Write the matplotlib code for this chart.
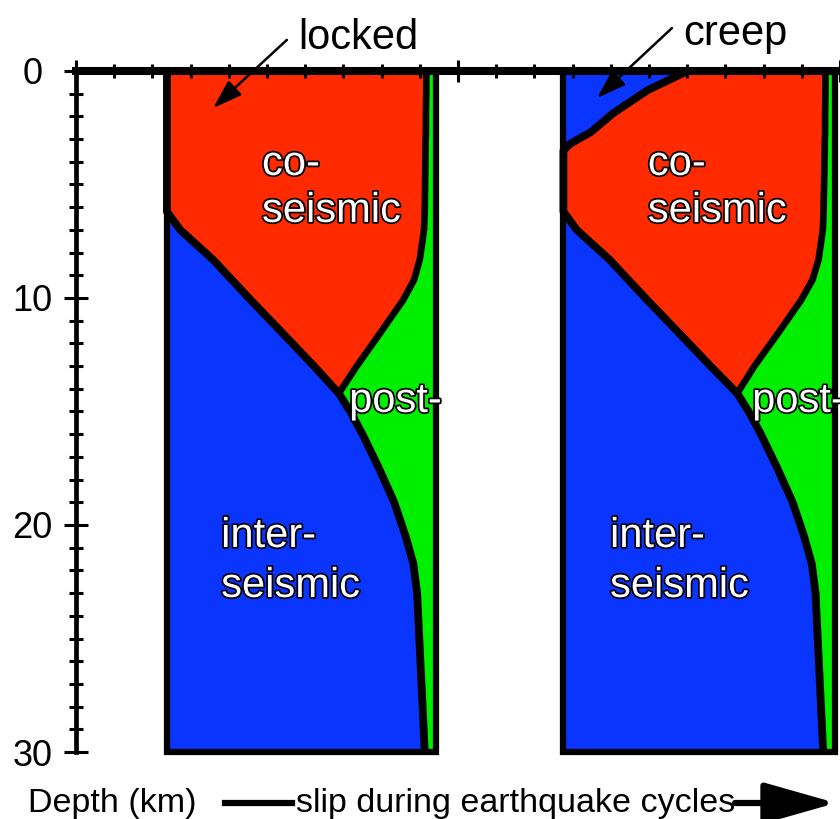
import matplotlib

matplotlib.use("Agg")
import matplotlib.pyplot as plt
import matplotlib.patheffects as pe
from matplotlib.lines import Line2D
import numpy as np

plt.rcParams["font.family"] = ["Liberation Sans", "DejaVu Sans"]

# depth grid (km) shared by every profile
depth_km = [0, 0.85, 1.85, 2.7, 3.2, 3.5, 6.2, 7.0, 8.3, 9.2, 10.1, 11.5, 13.0, 14.2,
            15.0, 16.0, 17.5, 19.0, 20.5, 21.7, 23.0, 26.5, 30.0]

# cumulative slip at the end of each phase, from the panel's left edge
# left panel: locked to 6 km
inter_locked = [0, 0, 0, 0, 0, 0, 0, 0.35, 1.2, 1.7, 2.2, 3.0, 3.85, 4.5,
                4.8, 5.12, 5.55, 5.95, 6.25, 6.45, 6.55, 6.65, 6.75]
co_locked_top = [6.79, 6.79, 6.78, 6.78, 6.77, 6.77, 6.75, 6.73, 6.62, 6.47, 6.18, 5.6, 4.97, 4.5]
total_locked = 7.05

# right panel: shallow creep
inter_creep = [3.25, 2.2, 1.31, 0.71, 0.18, 0, 0, 0.35, 1.2, 1.7, 2.2, 3.0, 3.85, 4.55,
               4.85, 5.17, 5.6, 6.0, 6.3, 6.5, 6.6, 6.7, 6.8]
co_creep_top = [6.86, 6.86, 6.85, 6.85, 6.84, 6.84, 6.81, 6.79, 6.68, 6.52, 6.22, 5.64, 5.0, 4.55]
total_creep = 7.1

panel_offsets = [2.38, 12.76]

RED = "#ff2a00"
BLUE = "#0a35ff"
GREEN = "#00ee00"

fig = plt.figure(figsize=(8.4, 8.19), dpi=100)
ax = fig.add_axes([76 / 840, 1 - 752 / 819, 1 - 76 / 840, (752 - 71) / 819])
ax.set_xlim(0, 20)
ax.set_ylim(30, 0)

depth = np.array(depth_km)
panels = [
    (panel_offsets[0], inter_locked, co_locked_top, total_locked),
    (panel_offsets[1], inter_creep, co_creep_top, total_creep),
]
for off, inter, co_top, total in panels:
    inter = np.array(inter)
    co = np.concatenate([co_top, inter[len(co_top):]])
    ax.fill_betweenx(depth, off, off + inter, color=BLUE, lw=0, zorder=1)
    ax.fill_betweenx(depth, off + inter, off + co, color=RED, lw=0, zorder=1)
    ax.fill_betweenx(depth, off + co, off + total, color=GREEN, lw=0, zorder=1)
    ax.plot(off + inter, depth, color="k", lw=5.6, solid_joinstyle="round",
            solid_capstyle="round", zorder=2)
    ax.plot(off + np.array(co_top), depth[:len(co_top)], color="k", lw=4.8,
            solid_joinstyle="round", solid_capstyle="round", zorder=2)
    ax.plot([off, off, off + total, off + total], [0, 30, 30, 0], color="k", lw=4.5,
            solid_joinstyle="miter", clip_on=False, zorder=2)

# axes: thick top line with ticks, depth axis on the left
for side in ("right", "bottom"):
    ax.spines[side].set_visible(False)
ax.spines["top"].set_linewidth(5.8)
ax.spines["left"].set_linewidth(3.4)
ax.spines["top"].set_zorder(3)
ax.xaxis.tick_top()
ax.set_xticks([0, 10, 20])
ax.set_xticks(np.arange(0, 21, 1), minor=True)
ax.tick_params(axis="x", which="major", direction="inout", length=16.5, width=2.2,
               labeltop=False, labelbottom=False)
ax.tick_params(axis="x", which="minor", direction="inout", length=10, width=2.2)

ax.set_yticks([0, 10, 20, 30])
ax.set_yticks(np.arange(0, 31, 1), minor=True)
ax.set_yticklabels(["0", "10", "20", "30"])
ax.tick_params(axis="y", which="major", direction="inout", length=17, width=2.2,
               pad=23, labelsize=26)
ax.tick_params(axis="y", which="minor", direction="inout", length=9.5, width=2.2)
for lab in ax.get_yticklabels():
    lab.set_ha("center")
ax.set_facecolor("none")

# white labels with a thin black outline
outline = [pe.withStroke(linewidth=2.5, foreground="k")]
labels = [
    ("co-", 4.87, 4.58), ("seismic", 4.87, 6.65),
    ("inter-", 3.80, 20.97), ("seismic", 3.80, 23.17),
    ("post-", 7.15, 15.02),
    ("co-", 14.97, 4.58), ("seismic", 14.97, 6.65),
    ("inter-", 13.98, 20.97), ("seismic", 13.98, 23.17),
    ("post-", 17.70, 15.02),
]
for txt, x, y in labels:
    ax.text(x, y, txt, color="white", fontsize=30, ha="left", va="baseline",
            path_effects=outline, zorder=4, clip_on=False)

# callouts above the panels
ax.text(5.81, -0.97, "locked", fontsize=30, ha="left", va="baseline", clip_on=False)
ax.text(15.89, -1.15, "creep", fontsize=30, ha="left", va="baseline", clip_on=False)
arrow = dict(arrowstyle="-|>,head_length=0.9,head_width=0.3", color="k", lw=1.8,
             mutation_scale=20, shrinkA=0, shrinkB=0)
ax.annotate("", xy=(3.59, 1.63), xytext=(5.52, -1.37), arrowprops=arrow,
            annotation_clip=False, zorder=5)
ax.annotate("", xy=(13.64, 1.19), xytext=(15.6, -1.89), arrowprops=arrow,
            annotation_clip=False, zorder=5)

# bottom caption
fig.text(28 / 840, 1 - 812 / 819, "Depth (km)", fontsize=24.5, ha="left", va="baseline")
fig.text(296 / 840, 1 - 812 / 819, "slip during earthquake cycles", fontsize=24.5,
         ha="left", va="baseline")
fig.add_artist(Line2D([225 / 840, 292 / 840], [1 - 803 / 819] * 2, lw=4.5, color="k"))
ax.annotate("", xy=(836, 16), xytext=(735, 16), xycoords="figure pixels",
            arrowprops=dict(arrowstyle="-|>,head_length=4.4,head_width=1.25",
                            color="k", lw=4.5, mutation_scale=10,
                            shrinkA=0, shrinkB=0),
            annotation_clip=False)

fig.savefig("out.png", dpi=100)
